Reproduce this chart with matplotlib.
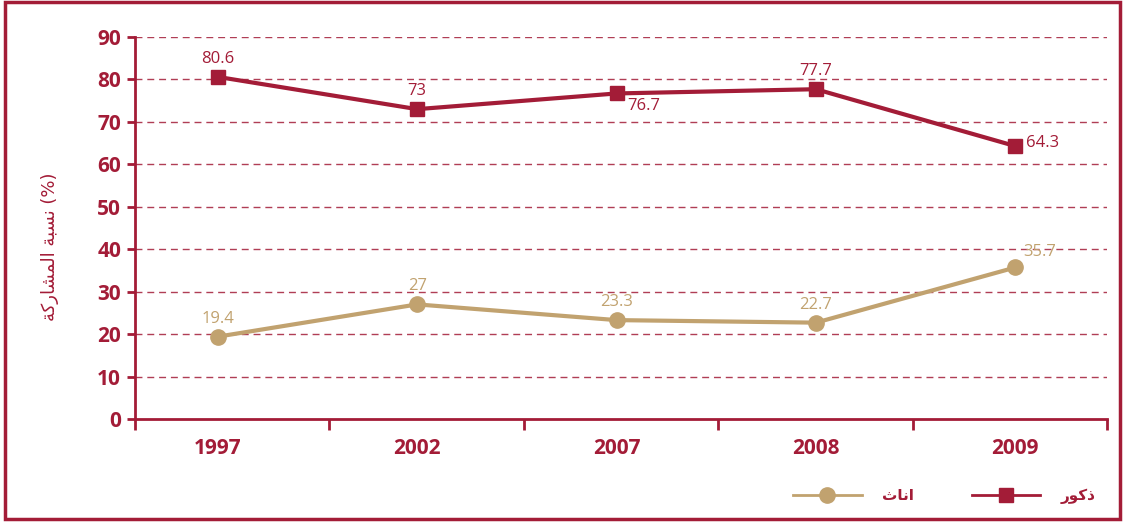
import matplotlib.pyplot as plt
from matplotlib.patches import Rectangle

# Participation rates by year
years = ['1997', '2002', '2007', '2008', '2009']
males = [80.6, 73, 76.7, 77.7, 64.3]
females = [19.4, 27, 23.3, 22.7, 35.7]

# Arabic text written in presentation forms, visual order
ylabel_text = '\uFE94\uFEDB\uFEAD\uFE8E\uFEB8\uFEE4\uFEDF\uFE8D \uFE94\uFE92\uFEB4\uFEE7 (%)'
male_label = '\uFEAD\uFEEE\uFEDB\uFEAB'
female_label = '\uFE99\uFE8E\uFEE7\uFE8D'

MAROON = '#A31C37'
TAN = '#C1A26F'

# label offsets in points (dx, dy, ha)
male_offsets = [(0, 13, 'center'), (0, 13, 'center'), (8, -9, 'left'), (0, 13, 'center'), (8, 2, 'left')]
female_offsets = [(0, 13, 'center'), (0, 13, 'center'), (0, 13, 'center'), (0, 13, 'center'), (6, 11, 'left')]

fig = plt.figure(figsize=(11.24, 5.23), dpi=100)
ax = fig.add_axes([135 / 1124, 104 / 523, 972 / 1124, 382 / 523])

x = list(range(len(years)))
male_line, = ax.plot(x, males, color=MAROON, lw=3, marker='s', ms=10, zorder=4, label=male_label)
female_line, = ax.plot(x, females, color=TAN, lw=3, marker='o', ms=11, zorder=4, label=female_label)

for i, v in enumerate(males):
    dx, dy, ha = male_offsets[i]
    ax.annotate(f'{v:g}', (i, v), xytext=(dx, dy), textcoords='offset points',
                ha=ha, va='center', color=MAROON, fontsize=12, family='Open Sans')
for i, v in enumerate(females):
    dx, dy, ha = female_offsets[i]
    ax.annotate(f'{v:g}', (i, v), xytext=(dx, dy), textcoords='offset points',
                ha=ha, va='center', color=TAN, fontsize=12, family='Open Sans')

x0, x1 = -0.415, 4.46
ax.set_xlim(x0, x1)
ax.set_ylim(0, 90)
ax.set_yticks(range(0, 91, 10))
ax.set_xticks(x)
ax.set_xticklabels(years)
step = (x1 - x0) / 5
ax.set_xticks([x0 + k * step for k in range(6)], minor=True)
ax.tick_params(axis='x', which='major', length=0, pad=14)
ax.tick_params(axis='x', which='minor', length=8, width=2, color=MAROON, direction='out')
ax.tick_params(axis='y', length=6, width=2, color=MAROON, pad=4)
for lab in ax.get_xticklabels() + ax.get_yticklabels():
    lab.set_color(MAROON)
    lab.set_fontweight('bold')
    lab.set_fontsize(15)
    lab.set_family('Open Sans')

for s in ['top', 'right']:
    ax.spines[s].set_visible(False)
for s in ['left', 'bottom']:
    ax.spines[s].set_color(MAROON)
    ax.spines[s].set_linewidth(2)

for yv in range(10, 91, 10):
    ax.axhline(yv, color=MAROON, lw=1, ls=(0, (5, 3.5)), alpha=0.85, zorder=1)

ax.set_ylabel(ylabel_text, color=MAROON, fontsize=13, family='DejaVu Sans')
ax.yaxis.set_label_coords(-0.078, 0.45)

leg = fig.legend(handles=[female_line, male_line], loc='center', bbox_to_anchor=(944 / 1124, 27 / 523),
                 ncol=2, frameon=False, handlelength=4.5, columnspacing=3.8, handletextpad=1.3,
                 prop={'family': 'DejaVu Sans', 'weight': 'bold', 'size': 11})
for t in leg.get_texts():
    t.set_color(MAROON)
for h in leg.legend_handles:
    h.set_linewidth(2)

fig.patches.append(Rectangle((5 / 1124, 4 / 523), 1115 / 1124, 517 / 523, transform=fig.transFigure,
                             fill=False, edgecolor=MAROON, lw=2.5))

fig.savefig('out.png', dpi=100)
